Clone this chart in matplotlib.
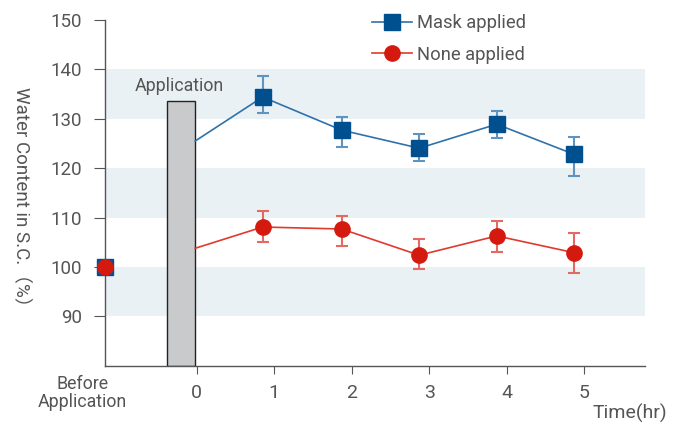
import matplotlib
matplotlib.use("Agg")
import matplotlib.pyplot as plt
import matplotlib.transforms as mtransforms

plt.rcParams['font.family'] = ['Roboto', 'Noto Sans CJK JP', 'DejaVu Sans']

# ---- data ----
before_x = -1.18
hours = [0.85, 1.87, 2.87, 3.87, 4.87]
tick_hours = [0, 1, 2, 3, 4, 5]
start_x = -0.02

mask_before = 100
mask_start = 125.5
mask_vals = [134.4, 127.7, 124.05, 128.9, 122.8]
mask_lo = [131.2, 124.2, 121.4, 126.1, 118.4]
mask_hi = [138.6, 130.4, 127.0, 131.6, 126.3]

none_before = 100
none_start = 103.8
none_vals = [108.1, 107.7, 102.4, 106.3, 102.9]
none_lo = [105.1, 104.3, 99.7, 103.0, 98.8]
none_hi = [111.3, 110.3, 105.7, 109.25, 106.9]

bar_left, bar_right, bar_height = -0.38, -0.02, 133.5
ytick_vals = [90, 100, 110, 120, 130, 140, 150]
bands = [(90, 100), (110, 120), (130, 140)]

GRAY = '#555555'
BLUE = '#00508f'
BLUE_L = '#2f72ab'
BLUE_E = '#5f93c0'
RED = '#d41a0f'
RED_L = '#e0392e'
RED_E = '#e36a62'

fig = plt.figure(figsize=(6.78, 4.24), dpi=100)
ax = fig.add_axes([0.1553, 0.137, 0.951 - 0.1553, 0.953 - 0.137])
ax.set_xlim(before_x, 5.78)
ax.set_ylim(80, 150)

for lo, hi in bands:
    ax.axhspan(lo, hi, color='#eaf1f5', lw=0, zorder=0)

ax.bar([(bar_left + bar_right) / 2], [bar_height - 80], bottom=80,
       width=bar_right - bar_left, color='#c9cacc', edgecolor='#222222',
       linewidth=1.0, zorder=2)
ax.text((bar_left + bar_right) / 2 - 0.03, 136.6, 'Application', ha='center',
        va='center', fontsize=12.8, color=GRAY)

# lines
ax.plot([start_x] + hours, [mask_start] + mask_vals, color=BLUE_L, lw=1.2, zorder=3)
ax.plot([start_x] + hours, [none_start] + none_vals, color=RED_L, lw=1.2, zorder=3)

# error bars
m_err = [[v - l for v, l in zip(mask_vals, mask_lo)], [h - v for v, h in zip(mask_vals, mask_hi)]]
n_err = [[v - l for v, l in zip(none_vals, none_lo)], [h - v for v, h in zip(none_vals, none_hi)]]
ax.errorbar(hours, mask_vals, yerr=m_err, fmt='none', ecolor=BLUE_E, elinewidth=1.5,
            capsize=4, capthick=1.5, zorder=3)
ax.errorbar(hours, none_vals, yerr=n_err, fmt='none', ecolor=RED_E, elinewidth=1.5,
            capsize=4, capthick=1.5, zorder=3)

# markers
ax.plot(hours, mask_vals, ls='none', marker='s', ms=11.5, color=BLUE, zorder=4)
ax.plot(hours, none_vals, ls='none', marker='o', ms=11, color=RED, zorder=4)
ax.plot([before_x], [mask_before], ls='none', marker='s', ms=11.5, color=BLUE, zorder=5, clip_on=False)
ax.plot([before_x], [none_before], ls='none', marker='o', ms=11, color=RED, zorder=6, clip_on=False)

# legend
h1, = ax.plot([], [], color=BLUE_L, lw=1.2, marker='s', ms=11.5, mfc=BLUE, mec=BLUE)
h2, = ax.plot([], [], color=RED_L, lw=1.2, marker='o', ms=11, mfc=RED, mec=RED)
leg = fig.legend([h1, h2], ['Mask applied', 'None applied'], loc='upper left',
                 bbox_to_anchor=(372.5 / 678, 1 - 14 / 424), frameon=False, fontsize=13.2,
                 handlelength=2.13, handletextpad=0.3, labelspacing=0.75, labelcolor=GRAY,
                 borderaxespad=0, borderpad=0)

# axes styling
for s in ['top', 'right']:
    ax.spines[s].set_visible(False)
for s in ['left', 'bottom']:
    ax.spines[s].set_color(GRAY)
    ax.spines[s].set_linewidth(1.0)
ax.set_yticks(ytick_vals)
ax.set_yticklabels([str(v) for v in ytick_vals])
ax.set_xticks(tick_hours)
ax.set_xticklabels([str(v) for v in tick_hours])
ax.tick_params(axis='y', direction='out', length=8, color=GRAY, labelcolor=GRAY,
               labelsize=13.5, pad=9)
ax.tick_params(axis='x', direction='out', length=6, color=GRAY, labelcolor=GRAY,
               labelsize=14, pad=7)

trans = mtransforms.blended_transform_factory(ax.transData, fig.transFigure)
ax.text(-1.47, 1 - 393 / 424, 'Before\nApplication', transform=trans, ha='center',
        va='center', fontsize=12.8, color=GRAY, linespacing=1.05)
fig.text(667 / 678, 1 - 413 / 424, 'Time(hr)', ha='right', va='center', fontsize=14,
         color=GRAY)
fig.text(22 / 678, 1 - 201 / 424, 'Water Content in S.C.（%）', rotation=-90,
         ha='center', va='center', fontsize=13.5, color=GRAY)

fig.savefig('out.png', dpi=100)
